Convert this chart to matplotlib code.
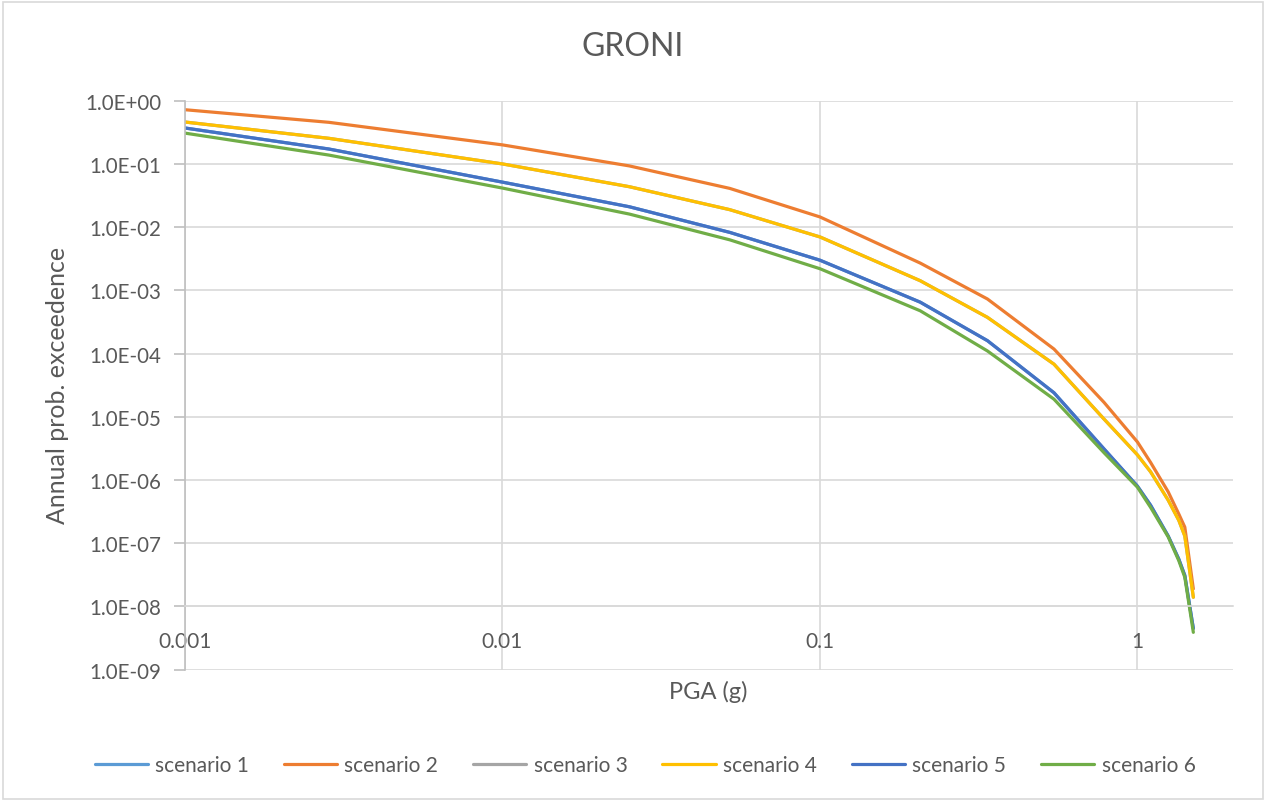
import numpy as np
import matplotlib
matplotlib.use("Agg")
from matplotlib import pyplot as plt
from matplotlib.ticker import FixedLocator, FuncFormatter, NullLocator

# PGA values (g)
pga = [0.001, 0.00284, 0.01, 0.0251, 0.052, 0.1, 0.207, 0.337, 0.546, 0.785, 1.0, 1.1, 1.25, 1.35, 1.41, 1.5]

# annual probability of exceedance per scenario
scen2 = [0.72, 0.455, 0.2, 0.093, 0.041, 0.0145, 0.0027, 7.3e-4, 1.18e-4, 1.69e-5, 4.0e-6, 1.9e-6, 6.5e-7, 2.9e-7, 1.8e-7, 1.9e-8]
scen4 = [0.46, 0.254, 0.1, 0.0436, 0.0189, 0.007, 0.00142, 3.74e-4, 6.8e-5, 9.2e-6, 2.5e-6, 1.35e-6, 4.8e-7, 2.3e-7, 1.3e-7, 1.4e-8]
scen5 = [0.37, 0.172, 0.0515, 0.021, 0.00826, 0.003, 6.5e-4, 1.6e-4, 2.4e-5, 3.1e-6, 8.0e-7, 4.0e-7, 1.3e-7, 5.6e-8, 3.1e-8, 4.5e-9]
scen6 = [0.307, 0.138, 0.0415, 0.0161, 0.0063, 0.0022, 4.75e-4, 1.1e-4, 1.9e-5, 2.7e-6, 7.7e-7, 3.7e-7, 1.26e-7, 5.3e-8, 2.9e-8, 3.9e-9]
# scenarios 1 and 3 are hidden under the others in the picture
scen1 = scen5
scen3 = scen4

labels = ["scenario 1", "scenario 2", "scenario 3", "scenario 4", "scenario 5", "scenario 6"]
series = [scen1, scen2, scen3, scen4, scen5, scen6]
colors = ["#5B9BD5", "#ED7D31", "#A5A5A5", "#FFC000", "#4472C4", "#70AD47"]

x_ticks = [0.001, 0.01, 0.1, 1]
x_ticklabels = ["0.001", "0.01", "0.1", "1"]
y_ticks = [1e0, 1e-1, 1e-2, 1e-3, 1e-4, 1e-5, 1e-6, 1e-7, 1e-8, 1e-9]

plt.rcParams['font.family'] = ['Lato', 'DejaVu Sans']
txt = "#595959"
grid = "#D9D9D9"

W, H = 1267, 803
fig = plt.figure(figsize=(W / 100, H / 100), dpi=100)
ax = fig.add_axes([185 / W, 1 - 670.7 / H, (1233 - 185) / W, (670.7 - 101.7) / H])

for s, lab, c in zip(series, labels, colors):
    ax.plot(pga, s, color=c, lw=2.3, label=lab, solid_capstyle='round', solid_joinstyle='round')

ax.set_xscale('log')
ax.set_yscale('log')
ax.set_xlim(0.001, 2)
ax.set_ylim(1e-9, 1)

ax.xaxis.set_major_locator(FixedLocator(x_ticks))
ax.xaxis.set_minor_locator(NullLocator())
ax.set_xticklabels(x_ticklabels)
ax.yaxis.set_major_locator(FixedLocator(y_ticks))
ax.yaxis.set_minor_locator(NullLocator())
ax.yaxis.set_major_formatter(FuncFormatter(lambda v, p: f"{v:.1E}"))

ax.grid(True, color=grid, lw=1.2)
ax.set_axisbelow(True)

for sp in ['top', 'right']:
    ax.spines[sp].set_visible(False)
ax.spines['left'].set_color("#BFBFBF")
ax.spines['left'].set_linewidth(1.2)
ax.spines['bottom'].set_position(('data', 1e-8))
ax.spines['bottom'].set_color(grid)
ax.spines['bottom'].set_linewidth(1.2)

ax.tick_params(axis='x', length=0, pad=18, labelsize=15, labelcolor=txt)
ax.tick_params(axis='y', length=8, width=1.2, color="#BFBFBF", pad=9, labelsize=14.8, labelcolor=txt)

fig.text(633 / W, 1 - 47 / H, "GRONI", ha='center', va='center', fontsize=23, color=txt)
fig.text(708 / W, 1 - 692 / H, "PGA (g)", ha='center', va='center', fontsize=17, color=txt)
fig.text(58 / W, 1 - 385 / H, "Annual prob. exceedence", ha='center', va='center',
         rotation=90, fontsize=18, color=txt)

fig.legend(loc='center', bbox_to_anchor=(645 / W, 1 - 766 / H), ncol=6, frameon=False,
           fontsize=15, handlelength=2.55, handletextpad=0.35, columnspacing=1.68,
           labelcolor=txt)

# chart area border
fig.patches.append(plt.Rectangle((3 / W, 3 / H), (W - 7) / W, (H - 6) / H,
                                 transform=fig.transFigure, fill=False,
                                 edgecolor="#D9D9D9", lw=1.2))

fig.savefig("out.png", dpi=100)
